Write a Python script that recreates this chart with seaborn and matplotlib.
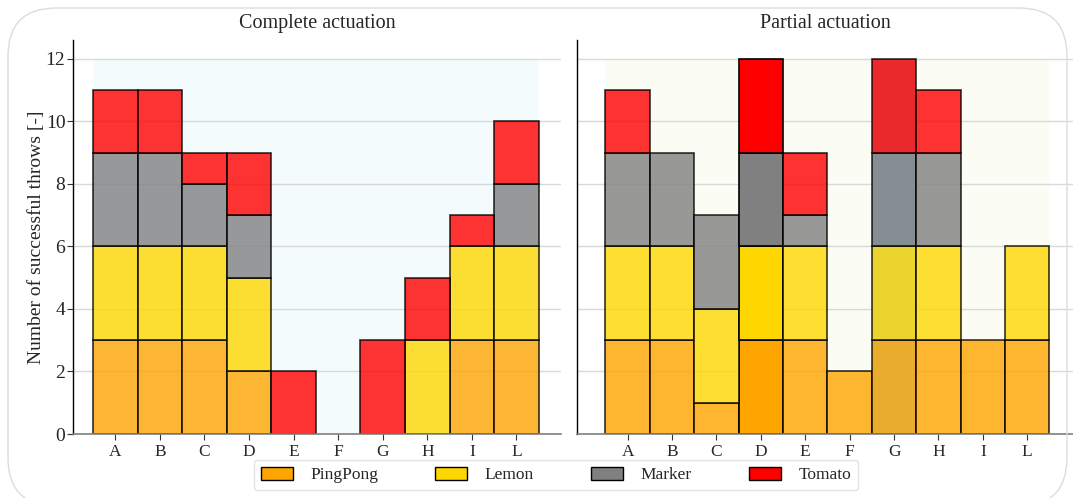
import numpy as np
import matplotlib.pyplot as plt
import seaborn as sns
from matplotlib.patches import FancyBboxPatch, Patch

letters = ["A", "B", "C", "D", "E", "F", "G", "H", "I", "L"]
objects = ["PingPong", "Lemon", "Marker", "Tomato"]

# complete actuation
complete_pingpong = [3, 3, 3, 2, 0, 0, 0, 0, 3, 3]
complete_lemon = [3, 3, 3, 3, 0, 0, 0, 3, 3, 3]
complete_marker = [3, 3, 2, 2, 0, 0, 0, 0, 0, 2]
complete_tomato = [2, 2, 1, 2, 2, 0, 3, 2, 1, 2]

# partial actuation
partial_pingpong = [3, 3, 1, 3, 3, 2, 3, 3, 3, 3]
partial_lemon = [3, 3, 3, 3, 3, 0, 3, 3, 0, 3]
partial_marker = [3, 3, 3, 3, 1, 0, 3, 3, 0, 0]
partial_tomato = [2, 0, 0, 3, 2, 0, 3, 2, 0, 0]

max_throws = 12

colors = ["#FFA500", "#FFD700", "#808080", "#FF0000"]

sns.set_theme(style="white")
plt.rcParams["font.family"] = ["Liberation Serif", "DejaVu Serif"]

fig = plt.figure(figsize=(10.73, 4.98), dpi=100)

# rounded frame round the whole figure (bottom runs off the picture)
W, H = 1073, 498
frame = FancyBboxPatch((8 / W, -8 / H), 1059 / W, 498 / H,
                       boxstyle="round,pad=0,rounding_size=0.045",
                       transform=fig.transFigure, facecolor="none",
                       edgecolor="#dcdcdc", linewidth=1.0,
                       mutation_aspect=W / H)
fig.patches.append(frame)

ax1 = fig.add_axes([73 / W, 64 / H, 488 / W, 394 / H])
ax2 = fig.add_axes([577 / W, 64 / H, 496 / W, 394 / H])


def draw_panel(ax, layers, bg, title, special=None):
    x = np.arange(len(letters))
    ax.bar(x, [max_throws] * len(letters), width=1.0, color=bg,
           linewidth=0, zorder=0.2)
    bottom = np.zeros(len(letters))
    for vals, col in zip(layers, colors):
        vals = np.array(vals, dtype=float)
        for i in range(len(letters)):
            if vals[i] <= 0:
                continue
            alpha = 0.8
            if special and letters[i] in special:
                kind = special[letters[i]]
                if kind == "solid":
                    alpha = 1.0
                elif kind == "tinted":
                    ax.bar(x[i], vals[i], bottom=bottom[i], width=1.0,
                           color="#9ccbe0", linewidth=0, zorder=1.5)
            ax.bar(x[i], vals[i], bottom=bottom[i], width=1.0, color=col,
                   edgecolor="black", linewidth=1.2, alpha=alpha, zorder=2)
        bottom += vals
    ax.set_xticks(x)
    ax.set_xticklabels(letters)
    ax.set_ylim(0, 12.6)
    ax.set_yticks(range(0, 13, 2))
    ax.yaxis.grid(True, color="#d9d9d9", linewidth=1.0)
    ax.xaxis.grid(False)
    ax.set_axisbelow(True)
    ax.set_facecolor("white")
    ax.set_title(title, fontsize=14.5, pad=9)
    sns.despine(ax=ax)
    ax.spines["left"].set_color("black")
    ax.spines["bottom"].set_color("#808080")
    ax.spines["left"].set_linewidth(1.0)
    ax.spines["bottom"].set_linewidth(1.2)
    ax.tick_params(axis="both", which="both", direction="out", length=4,
                   width=0.8, color="#333333", bottom=True, left=True)
    ax.tick_params(axis="x", labelsize=12.5)
    ax.tick_params(axis="y", labelsize=14, pad=1.5)


draw_panel(ax1, [complete_pingpong, complete_lemon, complete_marker, complete_tomato],
           "#f4fbfc", "Complete actuation")
draw_panel(ax2, [partial_pingpong, partial_lemon, partial_marker, partial_tomato],
           "#fbfcf3", "Partial actuation", special={"D": "solid", "G": "tinted"})

ax1.set_xlim(-0.95, 10.0)
ax2.set_xlim(-1.14, 10.03)
ax1.set_ylabel("Number of successful throws [-]", fontsize=14)
ax1.yaxis.set_label_coords(-0.058, 0.5)
ax2.tick_params(axis="y", left=False, labelleft=False)

handles = [Patch(facecolor=c, edgecolor="black", linewidth=1.0, label=o)
           for c, o in zip(colors, objects)]
leg = fig.legend(handles=handles, loc="center", ncol=4,
                 bbox_to_anchor=(556 / W, 1 - 475 / H), fontsize=12.5,
                 frameon=True, fancybox=True, handlelength=1.85,
                 handleheight=0.8, columnspacing=3.3, handletextpad=1.0,
                 borderpad=0.4)
leg.get_frame().set_edgecolor("#dcdcdc")
leg.get_frame().set_linewidth(1.0)

fig.savefig("out.png", dpi=100)
